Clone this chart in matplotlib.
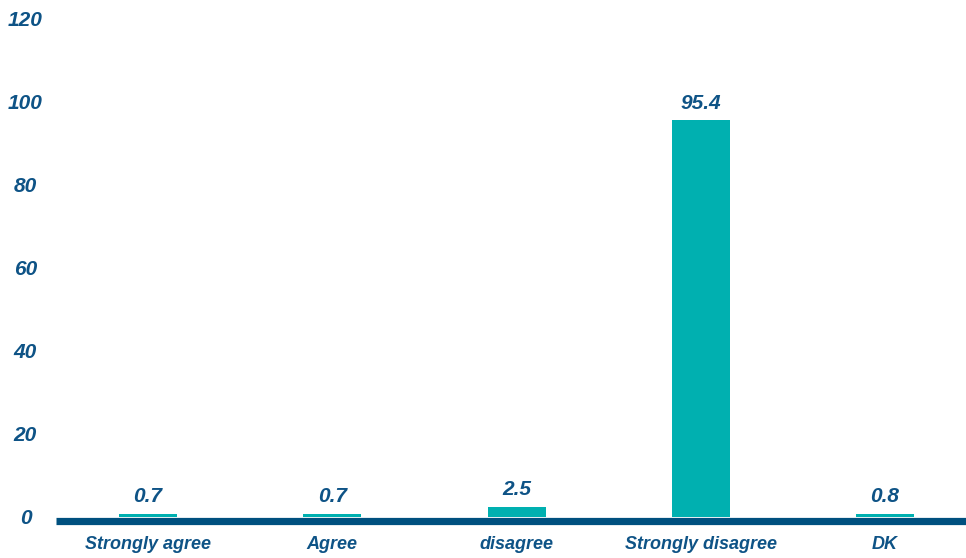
import matplotlib
matplotlib.use("Agg")
import matplotlib.pyplot as plt

categories = ["Strongly agree", "Agree", "disagree", "Strongly disagree", "DK"]
values = [0.7, 0.7, 2.5, 95.4, 0.8]
value_labels = ["0.7", "0.7", "2.5", "95.4", "0.8"]
yticks = [0, 20, 40, 60, 80, 100, 120]

navy = "#0E5386"
teal = "#00B0B0"
font = ["Liberation Sans", "DejaVu Sans"]

fig = plt.figure(figsize=(9.66, 5.58), dpi=100)
ax = fig.add_axes([56/966, (558-517)/558, 910/966, (517-18)/558])
x = list(range(len(categories)))
ax.bar(x, values, width=0.315, color=teal, zorder=2)
ax.set_xlim(-0.5, 4.44)
ax.set_ylim(0, 120)

for s in ["top", "right", "left"]:
    ax.spines[s].set_visible(False)
ax.spines["bottom"].set_color("#00507F")
ax.spines["bottom"].set_linewidth(5.2)
ax.spines["bottom"].set_position(("outward", 2.6))
ax.spines["bottom"].set_capstyle("butt")

ax.set_yticks(yticks)
ax.set_yticklabels([str(t) for t in yticks], fontsize=15, fontweight="bold",
                   fontstyle="italic", color=navy, family=font, ha="center")
ax.tick_params(axis="y", length=0, pad=22)
ax.set_xticks(x)
ax.set_xticklabels(categories, fontsize=13, fontweight="bold",
                   fontstyle="italic", color=navy, family=font)
ax.tick_params(axis="x", length=0, pad=11)

for xi, v, lab in zip(x, values, value_labels):
    ax.annotate(lab, (xi, v), xytext=(0, 5.5), textcoords="offset points",
                ha="center", va="bottom", fontsize=15, fontweight="bold",
                fontstyle="italic", color=navy, family=font)

fig.savefig("out.png", dpi=100)
